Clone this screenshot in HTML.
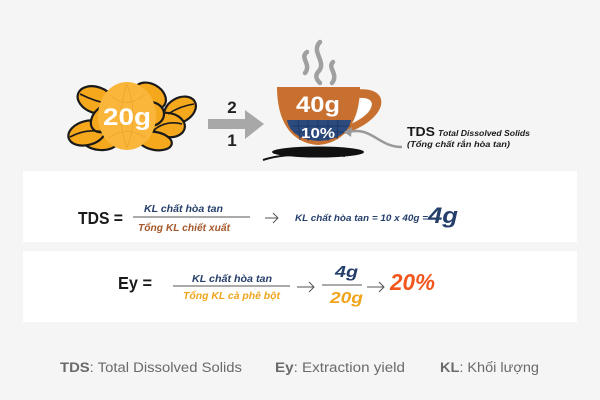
<!DOCTYPE html>
<html><head><meta charset="utf-8">
<style>
html,body{margin:0;padding:0;background:#f5f5f5;}
svg{display:block;}
text{font-family:"Liberation Sans","DejaVu Sans",sans-serif;}
</style></head>
<body>
<svg width="600" height="400" viewBox="0 0 600 400" xmlns="http://www.w3.org/2000/svg">
<rect width="600" height="400" fill="#f5f5f5"/>

<!-- Beans -->
<g stroke="#1a1a1a" stroke-width="2.2" fill="#f6a81d">
  <ellipse cx="96" cy="100" rx="19" ry="13" transform="rotate(20 96 100)"/>
  <ellipse cx="150" cy="96" rx="17" ry="12" transform="rotate(30 150 96)"/>
  <ellipse cx="180" cy="110" rx="17" ry="12" transform="rotate(-30 180 110)"/>
  <ellipse cx="100" cy="140" rx="18" ry="10" transform="rotate(5 100 140)"/>
  <ellipse cx="87" cy="133" rx="19" ry="12" transform="rotate(-15 87 133)"/>
  <ellipse cx="168" cy="125" rx="17" ry="12" transform="rotate(10 168 125)"/>
  <ellipse cx="155" cy="141" rx="17" ry="9" transform="rotate(10 155 141)"/>
  <ellipse cx="106" cy="118" rx="17" ry="12" transform="rotate(-40 106 118)"/>
  <ellipse cx="150" cy="114" rx="14" ry="12"/>
</g>
<g stroke="#1a1a1a" stroke-width="1.6" fill="none">
  <path d="M80 94 Q96 102 110 104"/>
  <path d="M70 137 Q86 128 104 132"/>
  <path d="M168 114 Q180 106 194 104"/>
  <path d="M154 130 Q166 120 182 124"/>
</g>
<ellipse cx="127" cy="116" rx="29" ry="34" fill="#f9b63a"/>
<g stroke="#e9a02a" stroke-width="0.8" fill="none" opacity="0.8">
  <path d="M110 95 Q127 110 144 95"/>
  <path d="M106 120 Q127 105 148 120"/>
  <path d="M108 138 Q127 125 146 138"/>
  <path d="M127 84 Q115 116 127 148"/>
  <path d="M127 84 Q139 116 127 148"/>
</g>
<text x="127" y="125" text-anchor="middle" font-size="24" font-weight="bold" fill="#ffffff" textLength="48" lengthAdjust="spacingAndGlyphs">20g</text>

<!-- Middle arrow -->
<path d="M208 119 L245 119 L245 110 L264 124 L245 139 L245 129 L208 129 Z" fill="#a8a8a8"/>
<text x="232" y="113" text-anchor="middle" font-size="17" font-weight="bold" fill="#222">2</text>
<text x="232" y="146" text-anchor="middle" font-size="17" font-weight="bold" fill="#222">1</text>

<!-- Steam -->
<g stroke="#a0a0a0" stroke-width="4.5" fill="none" stroke-linecap="round">
  <path d="M307 52 C299 58 312 64 305 73"/>
  <path d="M320 42 C310 52 328 62 318 72 C314 77 318 81 320 83"/>
  <path d="M333 62 C327 68 339 74 332 83"/>
</g>

<!-- Saucer -->
<path d="M263 160 C280 154 320 152 345 156" stroke="#111" stroke-width="2" fill="none"/>
<ellipse cx="318" cy="152" rx="46" ry="5.5" fill="#111"/>

<!-- Cup handle -->
<path d="M354 90 C392 84 392 118 344 134 L346 126 C378 114 378 96 356 98 Z" fill="#c8702f"/>
<path d="M362 98 C376 98 376 110 356 120 Z" fill="#ffffff"/>
<!-- Cup bowl -->
<path d="M277 87 L360 87 C360 120 346 143 318 145 C290 143 277 120 277 87 Z" fill="#c8702f"/>
<path d="M287 120 L351 120 C349 132 338 140 319 141 C300 140 289 132 287 120 Z" fill="#2b4a7e"/>
<g stroke="#1c3560" stroke-width="0.8" fill="none">
  <path d="M292 126 L350 126 M294 132 L346 132 M300 137 L338 137"/>
  <path d="M298 120 L300 140 M308 120 L308 141 M318 120 L318 141 M328 120 L328 141 M338 120 L337 139"/>
</g>
<text x="318" y="112" text-anchor="middle" font-size="22" font-weight="bold" fill="#ffffff" textLength="44" lengthAdjust="spacingAndGlyphs">40g</text>
<text x="318" y="138" text-anchor="middle" font-size="15" font-weight="bold" fill="#ffffff" textLength="34" lengthAdjust="spacingAndGlyphs">10%</text>

<!-- TDS pointer arrow -->
<path d="M348 132 C372 126 378 147 402 147" stroke="#9a9a9a" stroke-width="2.5" fill="none"/>
<path d="M344 132 L352 127 L351 137 Z" fill="#9a9a9a"/>

<text x="407" y="136" font-size="12.5" font-weight="bold" fill="#1a1a1a" textLength="28" lengthAdjust="spacingAndGlyphs">TDS</text>
<text x="438" y="136" font-size="8.5" font-style="italic" font-weight="bold" fill="#1a1a1a" textLength="92" lengthAdjust="spacingAndGlyphs">Total Dissolved Solids</text>
<text x="407" y="147" font-size="8.5" font-style="italic" font-weight="bold" fill="#1a1a1a" textLength="103" lengthAdjust="spacingAndGlyphs">(Tổng chất rắn hòa tan)</text>

<!-- Box 1 -->
<rect x="23" y="171" width="554" height="71" fill="#ffffff"/>
<text x="78" y="224" font-size="17.5" font-weight="bold" fill="#1a1a1a" textLength="45" lengthAdjust="spacingAndGlyphs">TDS =</text>
<text x="144" y="212" font-size="10" font-style="italic" font-weight="bold" fill="#253f6b" textLength="79" lengthAdjust="spacingAndGlyphs">KL chất hòa tan</text>
<line x1="133" y1="217" x2="250" y2="217" stroke="#555" stroke-width="1"/>
<text x="138" y="231" font-size="10" font-style="italic" font-weight="bold" fill="#a4582a" textLength="92" lengthAdjust="spacingAndGlyphs">Tổng KL chiết xuất</text>
<path d="M265 218 L278 218 M273 213 L278 218 L273 223" stroke="#555" stroke-width="1" fill="none"/>
<text x="295" y="221" font-size="9.5" font-style="italic" font-weight="bold" fill="#253f6b" textLength="133" lengthAdjust="spacingAndGlyphs">KL chất hòa tan = 10 x 40g =</text>
<text x="428" y="223" font-size="22" font-weight="bold" font-style="italic" fill="#253f6b" textLength="30" lengthAdjust="spacingAndGlyphs">4g</text>

<!-- Box 2 -->
<rect x="23" y="251" width="554" height="71" fill="#ffffff"/>
<text x="118" y="289" font-size="17.5" font-weight="bold" fill="#1a1a1a" textLength="34" lengthAdjust="spacingAndGlyphs">Ey =</text>
<text x="192" y="282" font-size="10" font-style="italic" font-weight="bold" fill="#253f6b" textLength="80" lengthAdjust="spacingAndGlyphs">KL chất hòa tan</text>
<line x1="173" y1="286" x2="290" y2="286" stroke="#555" stroke-width="1"/>
<text x="183" y="299" font-size="10" font-style="italic" font-weight="bold" fill="#f0a51c" textLength="97" lengthAdjust="spacingAndGlyphs">Tổng KL cà phê bột</text>
<path d="M297 287 L314 287 M309 282 L314 287 L309 292" stroke="#555" stroke-width="1" fill="none"/>
<text x="335" y="277" font-size="16" font-style="italic" font-weight="bold" fill="#253f6b" textLength="23" lengthAdjust="spacingAndGlyphs">4g</text>
<line x1="322" y1="285" x2="362" y2="285" stroke="#555" stroke-width="1"/>
<text x="330" y="303" font-size="16" font-style="italic" font-weight="bold" fill="#f0a51c" textLength="33" lengthAdjust="spacingAndGlyphs">20g</text>
<path d="M367 287 L384 287 M379 282 L384 287 L379 292" stroke="#555" stroke-width="1" fill="none"/>
<text x="390" y="290" font-size="23" font-weight="bold" font-style="italic" fill="#f2561d" textLength="45" lengthAdjust="spacingAndGlyphs">20%</text>

<!-- Legend -->
<g font-size="13.5" fill="#6a6a6a">
  <text x="60" y="372" textLength="182" lengthAdjust="spacingAndGlyphs"><tspan font-weight="bold">TDS</tspan>: Total Dissolved Solids</text>
  <text x="275" y="372" textLength="130" lengthAdjust="spacingAndGlyphs"><tspan font-weight="bold">Ey</tspan>: Extraction yield</text>
  <text x="440" y="372" textLength="99" lengthAdjust="spacingAndGlyphs"><tspan font-weight="bold">KL</tspan>: Khối lượng</text>
</g>
</svg>
</body></html>
